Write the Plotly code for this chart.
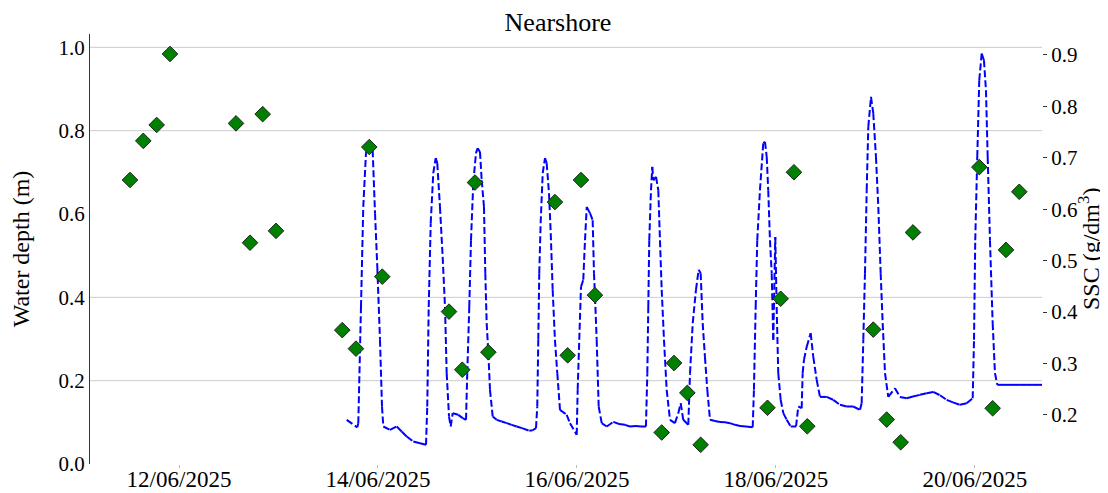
import plotly.graph_objects as go

# ---------------- data ----------------
depth_time = [
    "2025-06-13 16:27", "2025-06-13 19:00", "2025-06-13 19:15", "2025-06-13 19:54", "2025-06-13 20:27",
    "2025-06-13 21:06", "2025-06-13 21:40", "2025-06-13 22:43", "2025-06-13 23:17", "2025-06-13 23:50",
    "2025-06-14 00:29", "2025-06-14 00:58", "2025-06-14 01:17", "2025-06-14 02:54", "2025-06-14 04:31",
    "2025-06-14 05:43", "2025-06-14 06:55", "2025-06-14 08:31", "2025-06-14 10:08", "2025-06-14 11:35",
    "2025-06-14 11:53", "2025-06-14 12:14", "2025-06-14 12:43", "2025-06-14 13:20", "2025-06-14 13:55",
    "2025-06-14 14:18", "2025-06-14 14:57", "2025-06-14 15:36", "2025-06-14 16:10", "2025-06-14 16:34",
    "2025-06-14 17:08", "2025-06-14 17:32", "2025-06-14 18:01", "2025-06-14 19:22", "2025-06-14 20:26",
    "2025-06-14 21:14", "2025-06-14 21:32", "2025-06-14 22:01", "2025-06-14 22:26", "2025-06-14 22:59",
    "2025-06-14 23:38", "2025-06-15 00:03", "2025-06-15 00:36", "2025-06-15 01:01", "2025-06-15 01:34",
    "2025-06-15 01:53", "2025-06-15 02:13", "2025-06-15 02:37", "2025-06-15 03:01", "2025-06-15 03:40",
    "2025-06-15 04:38", "2025-06-15 05:50", "2025-06-15 07:03", "2025-06-15 08:15", "2025-06-15 09:27",
    "2025-06-15 10:44", "2025-06-15 12:30", "2025-06-15 13:19", "2025-06-15 14:07", "2025-06-15 14:25",
    "2025-06-15 14:40", "2025-06-15 14:54", "2025-06-15 15:14", "2025-06-15 15:44", "2025-06-15 16:17",
    "2025-06-15 16:41", "2025-06-15 17:15", "2025-06-15 17:40", "2025-06-15 18:08", "2025-06-15 18:41",
    "2025-06-15 19:15", "2025-06-15 19:54", "2025-06-15 21:31", "2025-06-15 22:19", "2025-06-15 23:56",
    "2025-06-16 00:10", "2025-06-16 00:33", "2025-06-16 00:58", "2025-06-16 01:31", "2025-06-16 01:56",
    "2025-06-16 02:21", "2025-06-16 03:08", "2025-06-16 03:47", "2025-06-16 04:06", "2025-06-16 04:21",
    "2025-06-16 04:45", "2025-06-16 05:14", "2025-06-16 05:58", "2025-06-16 07:10", "2025-06-16 08:46",
    "2025-06-16 10:08", "2025-06-16 11:35", "2025-06-16 12:47", "2025-06-16 14:14", "2025-06-16 15:26",
    "2025-06-16 16:38", "2025-06-16 16:58", "2025-06-16 17:12", "2025-06-16 17:26", "2025-06-16 17:51",
    "2025-06-16 18:10", "2025-06-16 18:24", "2025-06-16 19:04", "2025-06-16 19:37", "2025-06-16 20:01",
    "2025-06-16 20:26", "2025-06-16 20:59", "2025-06-16 21:38", "2025-06-16 22:26", "2025-06-16 23:38",
    "2025-06-17 00:26", "2025-06-17 01:01", "2025-06-17 01:38", "2025-06-17 02:51", "2025-06-17 03:16",
    "2025-06-17 03:55", "2025-06-17 04:42", "2025-06-17 05:21", "2025-06-17 05:50", "2025-06-17 06:19",
    "2025-06-17 06:52", "2025-06-17 07:26", "2025-06-17 08:05", "2025-06-17 09:17", "2025-06-17 10:29",
    "2025-06-17 11:42", "2025-06-17 12:54", "2025-06-17 14:07", "2025-06-17 15:19", "2025-06-17 16:46",
    "2025-06-17 18:23", "2025-06-17 18:41", "2025-06-17 19:06", "2025-06-17 19:29", "2025-06-17 20:08",
    "2025-06-17 20:56", "2025-06-17 21:21", "2025-06-17 21:46", "2025-06-17 22:08", "2025-06-17 22:33",
    "2025-06-17 22:58", "2025-06-17 23:21", "2025-06-17 23:50", "2025-06-18 00:10", "2025-06-18 00:33",
    "2025-06-18 01:08", "2025-06-18 01:46", "2025-06-18 02:35", "2025-06-18 03:33", "2025-06-18 04:50",
    "2025-06-18 05:23", "2025-06-18 06:12", "2025-06-18 06:26", "2025-06-18 06:45", "2025-06-18 07:24",
    "2025-06-18 08:22", "2025-06-18 09:00", "2025-06-18 09:49", "2025-06-18 10:37", "2025-06-18 12:14",
    "2025-06-18 13:49", "2025-06-18 15:26", "2025-06-18 17:03", "2025-06-18 18:38", "2025-06-18 20:16",
    "2025-06-18 20:40", "2025-06-18 21:04", "2025-06-18 21:28", "2025-06-18 21:53", "2025-06-18 22:16",
    "2025-06-18 22:55", "2025-06-18 23:28", "2025-06-19 00:07", "2025-06-19 00:41", "2025-06-19 01:15",
    "2025-06-19 01:44", "2025-06-19 02:18", "2025-06-19 03:05", "2025-06-19 04:42", "2025-06-19 05:55",
    "2025-06-19 07:31", "2025-06-19 09:03", "2025-06-19 10:44", "2025-06-19 12:21", "2025-06-19 13:56",
    "2025-06-19 15:34", "2025-06-19 17:10", "2025-06-19 18:42", "2025-06-19 20:23", "2025-06-19 22:00",
    "2025-06-19 23:27", "2025-06-19 23:46", "2025-06-20 00:04", "2025-06-20 00:33", "2025-06-20 01:02",
    "2025-06-20 01:37", "2025-06-20 02:10", "2025-06-20 02:39", "2025-06-20 03:04", "2025-06-20 03:37",
    "2025-06-20 04:16", "2025-06-20 04:49", "2025-06-20 05:23", "2025-06-20 06:45", "2025-06-20 08:12",
    "2025-06-20 09:39", "2025-06-20 11:05", "2025-06-20 12:32", "2025-06-20 13:59", "2025-06-20 15:26",
    "2025-06-20 16:10",
]
water_depth = [
    0.106, 0.088, 0.098, 0.377, 0.617,
    0.746, 0.765, 0.753, 0.602, 0.473,
    0.298, 0.138, 0.090, 0.082, 0.090,
    0.078, 0.066, 0.054, 0.050, 0.046,
    0.138, 0.377, 0.578, 0.698, 0.734,
    0.722, 0.617, 0.497, 0.377, 0.218,
    0.114, 0.090, 0.122, 0.118, 0.110,
    0.106, 0.218, 0.377, 0.537, 0.674,
    0.746, 0.758, 0.749, 0.681, 0.617,
    0.458, 0.338, 0.266, 0.178, 0.114,
    0.106, 0.102, 0.098, 0.094, 0.090,
    0.086, 0.080, 0.081, 0.086, 0.138,
    0.298, 0.458, 0.578, 0.698, 0.734,
    0.722, 0.650, 0.554, 0.418, 0.298,
    0.218, 0.130, 0.118, 0.098, 0.070,
    0.178, 0.298, 0.425, 0.442, 0.537,
    0.617, 0.602, 0.585, 0.458, 0.401,
    0.298, 0.138, 0.098, 0.090, 0.101,
    0.096, 0.094, 0.090, 0.091, 0.090,
    0.090, 0.218, 0.377, 0.537, 0.657,
    0.713, 0.681, 0.689, 0.657, 0.537,
    0.418, 0.298, 0.178, 0.106, 0.098,
    0.122, 0.146, 0.106, 0.094, 0.218,
    0.338, 0.418, 0.466, 0.458, 0.338,
    0.257, 0.178, 0.106, 0.103, 0.101,
    0.100, 0.098, 0.094, 0.091, 0.090,
    0.088, 0.178, 0.377, 0.537, 0.657,
    0.770, 0.773, 0.737, 0.657, 0.537,
    0.458, 0.298, 0.545, 0.377, 0.218,
    0.154, 0.122, 0.106, 0.090, 0.090,
    0.138, 0.134, 0.218, 0.250, 0.281,
    0.314, 0.257, 0.202, 0.161, 0.161,
    0.154, 0.142, 0.138, 0.138, 0.130,
    0.146, 0.298, 0.458, 0.657, 0.809,
    0.881, 0.842, 0.737, 0.617, 0.458,
    0.338, 0.218, 0.161, 0.182, 0.161,
    0.158, 0.162, 0.166, 0.170, 0.173,
    0.165, 0.154, 0.148, 0.142, 0.146,
    0.158, 0.298, 0.537, 0.737, 0.921,
    0.985, 0.969, 0.897, 0.737, 0.537,
    0.338, 0.218, 0.190, 0.190, 0.190,
    0.190, 0.190, 0.190, 0.190, 0.190,
    0.190,
]

ssc_time = [
    "2025-06-11 12:11", "2025-06-11 15:23", "2025-06-11 18:37", "2025-06-11 21:50",
    "2025-06-12 13:45", "2025-06-12 17:08", "2025-06-12 20:11", "2025-06-12 23:24",
    "2025-06-13 15:23", "2025-06-13 18:41", "2025-06-13 21:54", "2025-06-14 01:02",
    "2025-06-14 17:08", "2025-06-14 20:20", "2025-06-14 23:24", "2025-06-15 02:37",
    "2025-06-15 18:41", "2025-06-15 21:45", "2025-06-16 00:58", "2025-06-16 04:20",
    "2025-06-16 20:26", "2025-06-16 23:24", "2025-06-17 02:37", "2025-06-17 05:50",
    "2025-06-17 21:57", "2025-06-18 01:08", "2025-06-18 04:20", "2025-06-18 07:33",
    "2025-06-18 23:28", "2025-06-19 02:42", "2025-06-19 06:05", "2025-06-19 09:03",
    "2025-06-20 01:03", "2025-06-20 04:16", "2025-06-20 07:29", "2025-06-20 10:41",
]
ssc = [
    0.657, 0.733, 0.764, 0.902,
    0.767, 0.535, 0.785, 0.558,
    0.365, 0.329, 0.721, 0.469,
    0.401, 0.288, 0.652, 0.322,
    0.614, 0.316, 0.657, 0.433,
    0.166, 0.301, 0.243, 0.142,
    0.214, 0.426, 0.672, 0.178,
    0.366, 0.191, 0.147, 0.555,
    0.682, 0.213, 0.521, 0.634,
]

grid_levels = [0.2, 0.4, 0.8, 1.0]
left_ticks = [0.0, 0.2, 0.4, 0.6, 0.8, 1.0]
right_ticks = [0.2, 0.3, 0.4, 0.5, 0.6, 0.7, 0.8, 0.9]
x_ticks = ["2025-06-12", "2025-06-14", "2025-06-16", "2025-06-18", "2025-06-20"]
x_ticklabels = ["12/06/2025", "14/06/2025", "16/06/2025", "18/06/2025", "20/06/2025"]

# each sampling interval drawn as its own sub-path (dash restarts per interval)
seg_x, seg_y = [], []
for i in range(len(depth_time) - 1):
    seg_x += [depth_time[i], depth_time[i + 1], None]
    seg_y += [water_depth[i], water_depth[i + 1], None]

FONT = "Liberation Serif"

fig = go.Figure()
fig.add_trace(go.Scatter(
    x=seg_x, y=seg_y, mode="lines", connectgaps=False,
    line=dict(color="#0000ff", width=2, dash="7px,3px"),
    name="Water depth", yaxis="y", showlegend=False, hoverinfo="skip",
))
fig.add_trace(go.Scatter(
    x=ssc_time, y=ssc, mode="markers",
    marker=dict(symbol="diamond", size=12, color="#008000",
                line=dict(color="#222222", width=1)),
    name="SSC", yaxis="y2", showlegend=False,
))

for g in grid_levels:
    fig.add_shape(type="line", xref="paper", yref="y", x0=0, x1=1, y0=g, y1=g,
                  line=dict(color="#cccccc", width=1), layer="below")

fig.add_annotation(
    text="SSC (g/dm<sup>3</sup>)", textangle=-90,
    xref="paper", yref="paper", x=1, y=0.5, xanchor="center", yanchor="middle",
    xshift=47, showarrow=False, font=dict(family=FONT, size=24, color="#000000"),
)

fig.update_layout(
    width=1100, height=485,
    margin=dict(l=82, r=66, t=26, b=29),
    paper_bgcolor="white", plot_bgcolor="white",
    font=dict(family=FONT, color="#000000", size=21),
    title=dict(text="Nearshore", x=0.5, xanchor="center", y=0.972, yanchor="middle",
               font=dict(family=FONT, size=26, color="#000000")),
    xaxis=dict(
        type="date", range=["2025-06-11 02:32", "2025-06-20 16:10"],
        tickvals=x_ticks, ticktext=x_ticklabels,
        showgrid=False, zeroline=False, showline=False,
        ticks="outside", ticklen=3, tickcolor="#bbbbbb",
        ticklabelstandoff=-9,
        tickfont=dict(family=FONT, size=23), automargin=False,
    ),
    yaxis=dict(
        range=[0, 1.032], tickvals=left_ticks, tickformat=".1f",
        showgrid=False, zeroline=False,
        showline=True, linecolor="#333333", linewidth=1, ticks="",
        tickfont=dict(family=FONT, size=21),
        title=dict(text="Water depth (m)", font=dict(family=FONT, size=24), standoff=22),
        automargin=False,
    ),
    yaxis2=dict(
        overlaying="y", side="right", range=[0.1047, 0.9408],
        tickvals=right_ticks, tickformat=".1f",
        showgrid=False, zeroline=False, showline=False,
        ticks="outside", ticklen=4, tickcolor="#333333",
        tickfont=dict(family=FONT, size=21),
        automargin=False,
    ),
)

fig.write_html("out.html")
